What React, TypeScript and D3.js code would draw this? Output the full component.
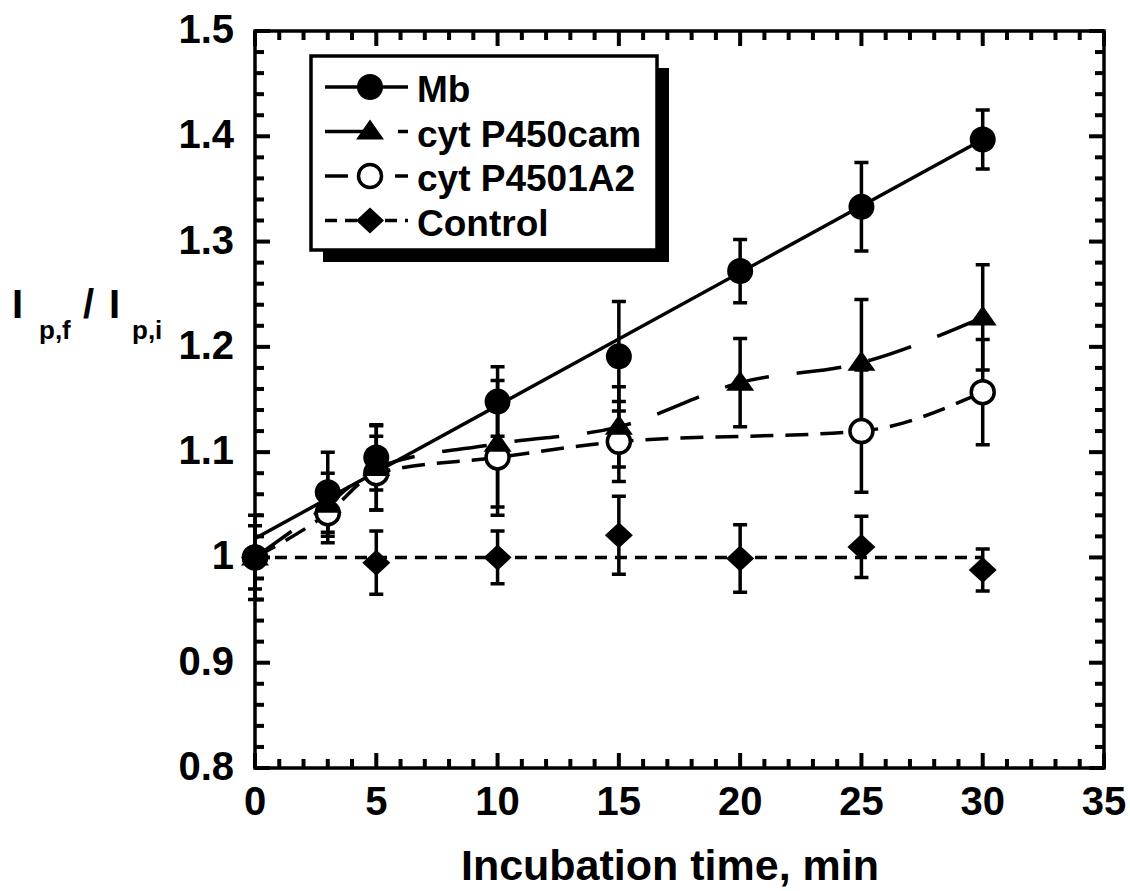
import React from "react";
import * as d3 from "d3";

// ---- data ----
const mbTime = [0, 3, 5, 10, 15, 20, 25, 30];
const mbValue = [1.0, 1.062, 1.095, 1.148, 1.191, 1.272, 1.333, 1.397];
const mbError = [0, 0.038, 0.031, 0.033, 0.052, 0.03, 0.042, 0.028];
const mbFitTime = [0, 30];
const mbFitValue = [1.018, 1.397];

const camTime = [0, 3, 5, 10, 15, 20, 25, 30];
const camValue = [1.0, 1.05, 1.085, 1.108, 1.124, 1.166, 1.185, 1.228];
const camError = [0.04, 0.03, 0.04, 0.06, 0.038, 0.042, 0.06, 0.05];

const a2Time = [0, 3, 5, 10, 15, 25, 30];
const a2Value = [1.0, 1.042, 1.08, 1.095, 1.11, 1.12, 1.157];
const a2Error = [0.03, 0.028, 0.035, 0.055, 0.038, 0.058, 0.05];

const ctrlTime = [0, 5, 10, 15, 20, 25, 30];
const ctrlValue = [1.0, 0.995, 1.0, 1.021, 0.999, 1.01, 0.988];
const ctrlError = [0, 0.03, 0.025, 0.037, 0.032, 0.029, 0.02];
const ctrlFitTime = [0, 30];
const ctrlFitValue = [1.0, 1.0];

const xTicks = [0, 5, 10, 15, 20, 25, 30, 35];
const yTicks = [0.8, 0.9, 1.0, 1.1, 1.2, 1.3, 1.4, 1.5];
const yTickLabels = ["0.8", "0.9", "1", "1.1", "1.2", "1.3", "1.4", "1.5"];
const legendLabels = ["Mb", "cyt P450cam", "cyt P4501A2", "Control"];

const FONT = "'Liberation Sans', Arial, Helvetica, sans-serif";

type Kind = "circle" | "triangle" | "open" | "diamond";

function Marker({ kind, cx, cy }: { kind: Kind; cx: number; cy: number }) {
  if (kind === "circle") return <circle cx={cx} cy={cy} r={13} fill="#000" />;
  if (kind === "open")
    return <circle cx={cx} cy={cy} r={11.5} fill="#fff" stroke="#000" strokeWidth={3.5} />;
  if (kind === "triangle")
    return (
      <path
        d={`M${cx},${cy - 12}L${cx + 14},${cy + 8}L${cx - 14},${cy + 8}Z`}
        fill="#000"
      />
    );
  return (
    <path
      d={`M${cx},${cy - 13}L${cx + 14},${cy}L${cx},${cy + 13}L${cx - 14},${cy}Z`}
      fill="#000"
    />
  );
}

export default function App() {
  const W = 1130,
    H = 891;
  const x = d3.scaleLinear().domain([0, 35]).range([255, 1104]);
  const y = d3.scaleLinear().domain([0.8, 1.5]).range([768, 31]);
  const xL = x(0),
    xR = x(35),
    yT = y(1.5),
    yB = y(0.8);

  const xMinor: number[] = [];
  for (let i = 0; i <= 35; i++) xMinor.push(i);
  const yMinor: number[] = [];
  for (let i = 0; i <= 35; i++) yMinor.push(0.8 + i * 0.02);

  const lineGen = d3
    .line<[number, number]>()
    .x((d) => x(d[0]))
    .y((d) => y(d[1]));
  const smoothGen = d3
    .line<[number, number]>()
    .x((d) => x(d[0]))
    .y((d) => y(d[1]))
    .curve(d3.curveMonotoneX);

  const zip = (a: number[], b: number[]) => a.map((t, i) => [t, b[i]] as [number, number]);

  const series = [
    { kind: "circle" as Kind, t: mbTime, v: mbValue, e: mbError },
    { kind: "triangle" as Kind, t: camTime, v: camValue, e: camError },
    { kind: "open" as Kind, t: a2Time, v: a2Value, e: a2Error },
    { kind: "diamond" as Kind, t: ctrlTime, v: ctrlValue, e: ctrlError },
  ];

  const legendKinds: Kind[] = ["circle", "triangle", "open", "diamond"];
  const legendDash = ["", "45,28", "23,12", "12,8"];
  const lgX = 311,
    lgY = 56,
    lgW = 346,
    lgH = 194;
  const rowY = (i: number) => 87 + i * 44.5;

  const TW = 4;
  const tickRects: { x: number; y: number; w: number; h: number }[] = [];
  xMinor.forEach((t) => {
    const len = t % 5 === 0 ? 15 : 9;
    const px = x(t);
    tickRects.push({ x: px - TW / 2, y: yB - len, w: TW, h: len });
    tickRects.push({ x: px - TW / 2, y: yT, w: TW, h: len });
  });
  yMinor.forEach((v, i) => {
    const len = i % 5 === 0 ? 15 : 9;
    const py = y(v);
    tickRects.push({ x: xL, y: py - TW / 2, w: len, h: TW });
    tickRects.push({ x: xR - len, y: py - TW / 2, w: len, h: TW });
  });

  return (
    <svg
      width={W}
      height={H}
      style={{ position: "absolute", left: 0, top: 0, background: "#fff" }}
      fontFamily={FONT}
      fontWeight="bold"
    >
      <rect x={0} y={0} width={W} height={H} fill="#fff" />

      {/* fit / smooth lines */}
      <path
        d={lineGen(zip(mbFitTime, mbFitValue)) || ""}
        fill="none"
        stroke="#000"
        strokeWidth={3.5}
      />
      <path
        d={smoothGen(zip(camTime, camValue)) || ""}
        fill="none"
        stroke="#000"
        strokeWidth={3.5}
        strokeDasharray="45,28"
      />
      <path
        d={smoothGen(zip(a2Time, a2Value)) || ""}
        fill="none"
        stroke="#000"
        strokeWidth={3.5}
        strokeDasharray="23,12"
      />
      <path
        d={lineGen(zip(ctrlFitTime, ctrlFitValue)) || ""}
        fill="none"
        stroke="#000"
        strokeWidth={3.5}
        strokeDasharray="12,8"
      />

      {/* error bars */}
      {series.map((s, si) =>
        s.t.map((t, i) => {
          const e = s.e[i];
          if (!e) return null;
          const cx = x(t);
          const ya = y(s.v[i] + e);
          const yb = y(s.v[i] - e);
          return (
            <path
              key={`e${si}-${i}`}
              d={`M${cx},${ya}V${yb}M${cx - 7},${ya}H${cx + 7}M${cx - 7},${yb}H${cx + 7}`}
              fill="none"
              stroke="#000"
              strokeWidth={3.5}
            />
          );
        })
      )}

      {/* markers */}
      {series
        .slice()
        .reverse()
        .map((s, si) =>
          s.t.map((t, i) => (
            <Marker key={`m${si}-${i}`} kind={s.kind} cx={x(t)} cy={y(s.v[i])} />
          ))
        )}

      {/* ticks (inward, all four sides) */}
      {tickRects.map((r, i) => (
        <rect key={`tk${i}`} x={r.x} y={r.y} width={r.w} height={r.h} fill="#000" />
      ))}

      {/* frame */}
      <rect
        x={xL}
        y={yT}
        width={xR - xL}
        height={yB - yT}
        fill="none"
        stroke="#000"
        strokeWidth={3.5}
      />

      {/* tick labels */}
      {xTicks.map((t) => (
        <text key={`xl${t}`} x={x(t)} y={815} fontSize={40} textAnchor="middle">
          {t}
        </text>
      ))}
      {yTicks.map((v, i) => (
        <text key={`yl${i}`} x={234} y={y(v) + 12} fontSize={40} textAnchor="end">
          {yTickLabels[i]}
        </text>
      ))}

      {/* axis titles */}
      <text x={670} y={880} fontSize={43} textAnchor="middle">
        Incubation time, min
      </text>
      <g fontSize={40}>
        <text x={12} y={318}>I</text>
        <text x={39} y={339} fontSize={26}>p,f</text>
        <text x={83} y={318}>/</text>
        <text x={109} y={318}>I</text>
        <text x={132} y={339} fontSize={26}>p,i</text>
      </g>

      {/* legend */}
      <rect x={lgX + 12} y={lgY + 12} width={lgW} height={lgH} fill="#000" />
      <rect
        x={lgX}
        y={lgY}
        width={lgW}
        height={lgH}
        fill="#fff"
        stroke="#000"
        strokeWidth={3.5}
      />
      {legendLabels.map((lab, i) => (
        <g key={`lg${i}`}>
          <line
            x1={325}
            x2={408}
            y1={rowY(i)}
            y2={rowY(i)}
            stroke="#000"
            strokeWidth={3.5}
            strokeDasharray={legendDash[i] || undefined}
          />
          <Marker kind={legendKinds[i]} cx={370} cy={rowY(i)} />
          <text x={417} y={rowY(i) + 15} fontSize={37}>
            {lab}
          </text>
        </g>
      ))}
    </svg>
  );
}
